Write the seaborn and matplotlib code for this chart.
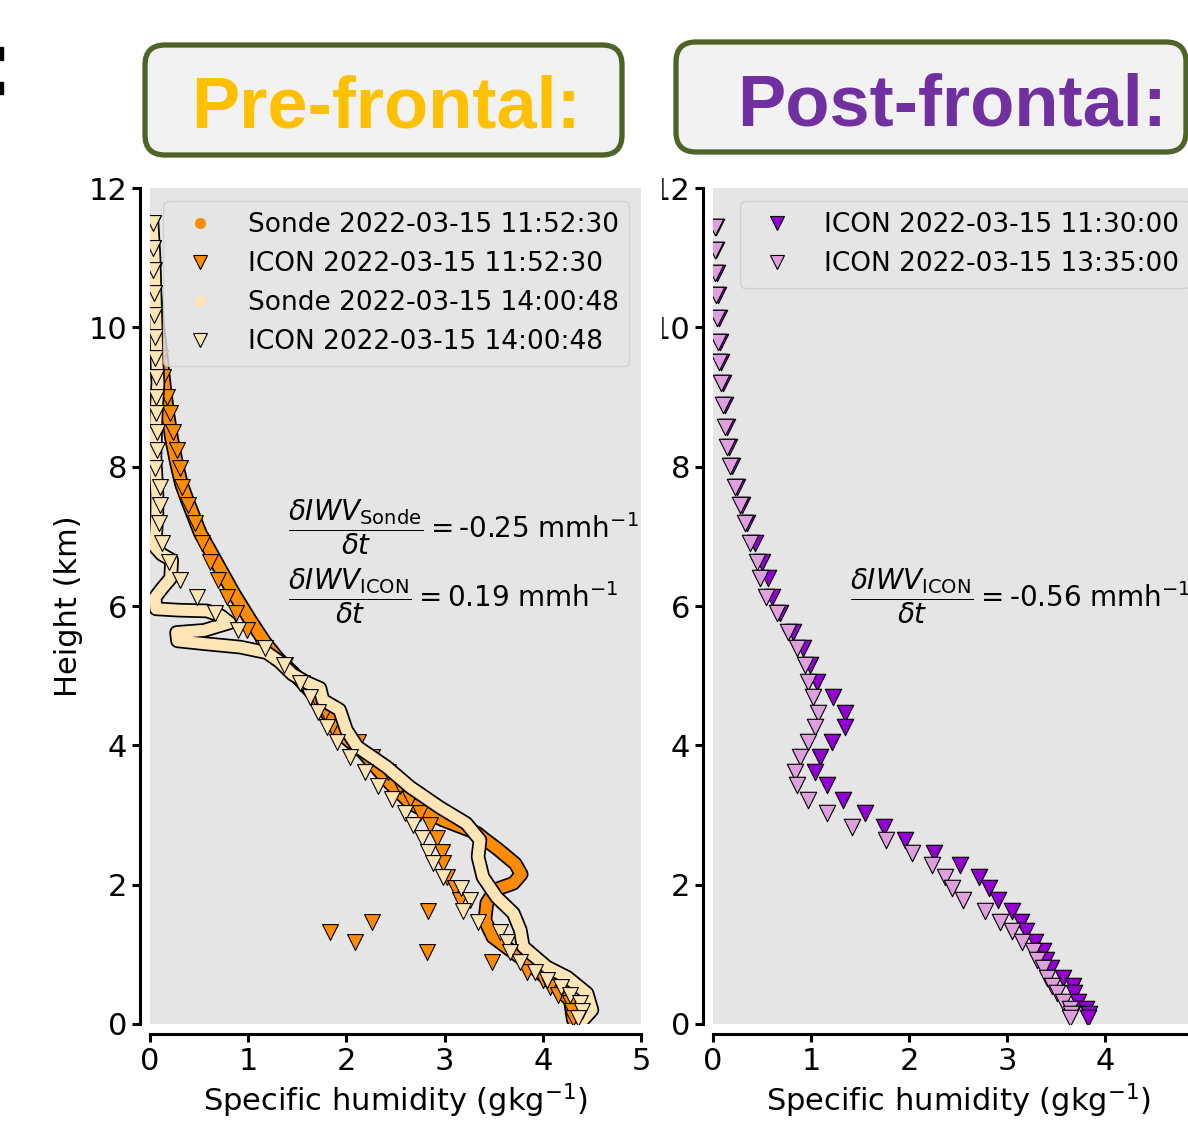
'''
Pre-frontal / post-frontal humidity profiles: radiosonde vs ICON
'''
import pandas as pd
import matplotlib.pyplot as plt
import matplotlib.patheffects as pe
from matplotlib.lines import Line2D
from matplotlib.patches import FancyBboxPatch, Rectangle
import seaborn as sns

# ---- pre-frontal: radiosondes (height km, q g/kg) ----
sonde1_x = [0.04, 0.08, 0.12, 0.15, 0.18, 0.22, 0.27, 0.32, 0.38, 0.51, 0.68,
            0.85, 1.02, 1.17, 1.30, 1.45, 1.65, 1.80, 1.93, 2.17, 2.44, 2.65,
            2.98, 3.33, 3.40, 3.55, 3.72, 3.78, 3.70, 3.52, 3.43, 3.41, 3.49,
            3.67, 3.90, 4.14, 4.28, 4.31]
sonde1_y = [10.6, 10.0, 9.5, 9.1, 8.77, 8.4, 8.05, 7.75, 7.52, 7.05, 6.62,
            6.19, 5.80, 5.48, 5.25, 5.05, 4.75, 4.46, 4.18, 3.90, 3.46, 3.17,
            2.93, 2.74, 2.66, 2.50, 2.30, 2.15, 2.02, 1.93, 1.74, 1.49, 1.25,
            1.06, 0.82, 0.53, 0.34, 0.06]
sonde2_x = [0.02, 0.04, 0.05, 0.06, 0.07, 0.08, 0.06, 0.05, 0.07, 0.07, 0.05,
            0.12, 0.22, 0.21, 0.12, 0.05, 0.06, 0.30, 0.58, 0.72, 0.81, 0.55,
            0.27, 0.28, 0.55, 0.92, 1.19, 1.32, 1.45, 1.60, 1.73, 1.76, 1.93,
            2.00, 2.11, 2.41, 2.65, 2.95, 3.22, 3.36, 3.34, 3.39, 3.53, 3.70,
            3.77, 3.80, 4.04, 4.25, 4.45, 4.50, 4.41]
sonde2_y = [11.5, 11.0, 10.5, 10.0, 9.5, 9.2, 8.7, 8.14, 7.6, 7.33, 6.85,
            6.74, 6.66, 6.40, 6.25, 6.12, 5.96, 5.94, 5.93, 5.86, 5.76, 5.65,
            5.62, 5.50, 5.46, 5.41, 5.33, 5.20, 5.02, 4.90, 4.82, 4.65, 4.51,
            4.22, 3.98, 3.69, 3.40, 3.11, 2.88, 2.64, 2.40, 2.11, 1.82, 1.59,
            1.35, 1.11, 0.82, 0.67, 0.44, 0.20, 0.06]

# ---- pre-frontal: ICON model levels ----
icon_pre_y = [11.50, 11.14, 10.82, 10.49, 10.18, 9.86, 9.56, 9.29, 9.00, 8.77,
              8.50, 8.24, 7.98, 7.71, 7.45, 7.19, 6.90, 6.63, 6.37, 6.13, 5.90,
              5.65, 5.40, 5.15, 4.89, 4.70, 4.48, 4.26, 4.05, 3.83, 3.62, 3.41,
              3.23, 3.03, 2.86, 2.67, 2.47, 2.31, 2.11, 1.95, 1.78, 1.62, 1.46,
              1.32, 1.17, 1.03, 0.89, 0.75, 0.63, 0.53, 0.42, 0.30, 0.18, 0.09]
icon_pre1_x = [0.03, 0.03, 0.04, 0.04, 0.05, 0.07, 0.10, 0.13, 0.17, 0.20,
               0.23, 0.27, 0.30, 0.33, 0.39, 0.46, 0.53, 0.61, 0.69, 0.78, 0.88,
               0.99, 1.15, 1.37, 1.55, 1.68, 1.78, 1.85, 2.12, 2.26, 2.42, 2.55,
               2.65, 2.75, 2.85, 2.92, 2.97, 2.98, 3.02, 3.11, 3.16, 2.83, 2.26,
               1.83, 2.09, 2.82, 3.48, 3.84, 4.00, 4.07, 4.15, 4.28, 4.30, 4.31]
icon_pre2_x = [0.03, 0.03, 0.03, 0.04, 0.04, 0.05, 0.05, 0.06, 0.06, 0.06,
               0.07, 0.07, 0.05, 0.10, 0.10, 0.09, 0.12, 0.19, 0.31, 0.48, 0.66,
               0.90, 1.17, 1.36, 1.53, 1.63, 1.71, 1.80, 1.90, 2.04, 2.19, 2.32,
               2.46, 2.60, 2.68, 2.77, 2.83, 2.88, 2.98, 3.17, 3.26, 3.19, 3.34,
               3.56, 3.63, 3.67, 3.77, 3.92, 4.04, 4.18, 4.28, 4.38, 4.40, 4.36]

# ---- post-frontal: ICON model levels ----
icon_post_y = [11.44, 11.11, 10.78, 10.46, 10.13, 9.79, 9.50, 9.20, 8.88, 8.57,
               8.28, 8.01, 7.71, 7.45, 7.19, 6.90, 6.63, 6.40, 6.13, 5.90, 5.63,
               5.40, 5.15, 4.91, 4.70, 4.47, 4.26, 4.05, 3.83, 3.62, 3.43, 3.22,
               3.03, 2.83, 2.64, 2.46, 2.28, 2.11, 1.95, 1.78, 1.62, 1.47, 1.33,
               1.18, 1.05, 0.92, 0.80, 0.66, 0.55, 0.44, 0.32, 0.22, 0.14, 0.08]
icon_post1_x = [0.03, 0.03, 0.04, 0.05, 0.06, 0.07, 0.08, 0.10, 0.12, 0.14,
                0.16, 0.19, 0.24, 0.30, 0.35, 0.43, 0.50, 0.56, 0.60, 0.68,
                0.82, 0.92, 0.99, 1.06, 1.22, 1.35, 1.35, 1.21, 1.09, 1.04,
                1.16, 1.33, 1.55, 1.74, 1.96, 2.25, 2.52, 2.71, 2.82, 2.91,
                3.05, 3.14, 3.19, 3.28, 3.37, 3.40, 3.45, 3.57, 3.67, 3.68,
                3.72, 3.81, 3.84, 3.83]
icon_post2_x = [0.02, 0.02, 0.02, 0.03, 0.04, 0.05, 0.06, 0.08, 0.10, 0.12,
                0.14, 0.17, 0.22, 0.28, 0.33, 0.38, 0.45, 0.48, 0.54, 0.65,
                0.76, 0.86, 0.94, 0.97, 1.02, 1.07, 1.04, 0.97, 0.89, 0.84,
                0.86, 0.97, 1.16, 1.42, 1.76, 2.03, 2.23, 2.37, 2.44, 2.55,
                2.77, 2.93, 3.05, 3.15, 3.26, 3.31, 3.37, 3.41, 3.46, 3.51,
                3.57, 3.64, 3.65, 3.64]

pre_labels = ['Sonde 2022-03-15 11:52:30', 'ICON 2022-03-15 11:52:30',
              'Sonde 2022-03-15 14:00:48', 'ICON 2022-03-15 14:00:48']
post_labels = ['ICON 2022-03-15 11:30:00', 'ICON 2022-03-15 13:35:00']
pre_colors = ['#ff8c00', '#ffe4b5']
post_colors = ['#9400d3', '#dda0dd']

sns.set_style('ticks', {'axes.facecolor': '#e5e5e5', 'axes.edgecolor': 'black',
                        'text.color': 'black', 'axes.labelcolor': 'black',
                        'xtick.color': 'black', 'ytick.color': 'black'})
plt.rcParams['font.family'] = ['DejaVu Sans']
plt.rcParams['font.size'] = 20


def sonde(ax, xs, ys, color, z):
    df = pd.DataFrame({'q': xs, 'z': ys})
    sns.lineplot(data=df, x='q', y='z', sort=False, estimator=None, ax=ax,
                 color=color, lw=8, solid_capstyle='round',
                 solid_joinstyle='round', zorder=z,
                 path_effects=[pe.Stroke(linewidth=10.5, foreground='black'),
                               pe.Normal()])


def icon(ax, xs, ys, color, s, z):
    df = pd.DataFrame({'q': xs, 'z': ys})
    sns.scatterplot(data=df, x='q', y='z', marker='v', s=s, color=color,
                    edgecolor='black', linewidth=0.8, ax=ax, legend=False,
                    zorder=z)


def style_axes(ax, nx):
    ax.set_xlim(0, 5)
    ax.set_ylim(0, 12)
    ax.set_xticks(range(0, nx))
    ax.set_yticks(range(0, 13, 2))
    sns.despine(ax=ax, offset=7)
    for sp in ['left', 'bottom']:
        ax.spines[sp].set_linewidth(2.2)
    ax.tick_params(labelsize=22, width=2.2, length=6)
    ax.set_xlabel('Specific humidity (gkg$^{-1}$)', fontsize=22)


fig = plt.figure(figsize=(11.88, 11.28), dpi=100)
ax1 = fig.add_axes([0.1263, 0.0922, 0.4133, 0.7411])
ax2 = fig.add_axes([0.6002, 0.0922, 0.4125, 0.7411])

# pre-frontal
sonde(ax1, sonde1_x, sonde1_y, pre_colors[0], 2)
icon(ax1, icon_pre1_x, icon_pre_y, pre_colors[0], 130, 3)
sonde(ax1, sonde2_x, sonde2_y, pre_colors[1], 4)
icon(ax1, icon_pre2_x, icon_pre_y, pre_colors[1], 130, 5)
style_axes(ax1, 6)
ax1.set_ylabel('Height (km)', fontsize=22)
handles = [
    Line2D([], [], ls='', marker='o', ms=8, color=pre_colors[0], mec='none'),
    Line2D([], [], ls='', marker='v', ms=10, color=pre_colors[0], mec='black', mew=0.8),
    Line2D([], [], ls='', marker='o', ms=8, color=pre_colors[1], mec='none'),
    Line2D([], [], ls='', marker='v', ms=10, color=pre_colors[1], mec='black', mew=0.8),
]
leg = ax1.legend(handles, pre_labels, loc='upper left', fontsize=19,
                 framealpha=0.8)
leg.set_zorder(10)
ax1.text(1.4, 7.13, r'$\dfrac{\delta IWV_{\mathrm{Sonde}}}{\delta t} = $-0.25 mmh$^{-1}$',
         fontsize=20, va='center', ha='left', zorder=6)
ax1.text(1.4, 6.14, r'$\dfrac{\delta IWV_{\mathrm{ICON}}}{\delta t} = $0.19 mmh$^{-1}$',
         fontsize=20, va='center', ha='left', zorder=6)

# post-frontal
icon(ax2, icon_post1_x, icon_post_y, post_colors[0], 140, 3)
icon(ax2, icon_post2_x, icon_post_y, post_colors[1], 140, 4)
style_axes(ax2, 5)
ax2.set_ylabel('')
handles = [
    Line2D([], [], ls='', marker='v', ms=10, color=c, mec='black', mew=0.8)
    for c in post_colors
]
leg = ax2.legend(handles, post_labels, loc='upper right', fontsize=19,
                 framealpha=0.8)
leg.set_zorder(10)
ax2.text(1.4, 6.14, r'$\dfrac{\delta IWV_{\mathrm{ICON}}}{\delta t} = $-0.56 mmh$^{-1}$',
         fontsize=20, va='center', ha='left', zorder=6)

# title boxes (inches from bottom-left)
tr = fig.dpi_scale_trans
for (x0, y0, w, h), txt, col, tx, ty in [
        ((1.45, 9.73, 4.77, 1.10), 'Pre-frontal:', '#ffc000', 3.86, 10.00),
        ((6.76, 9.76, 5.10, 1.10), 'Post-frontal:', '#7030a0', 9.52, 10.03)]:
    fig.add_artist(FancyBboxPatch((x0, y0), w, h, transform=tr,
                                  boxstyle='round,pad=0,rounding_size=0.2',
                                  fc='#f2f2f2', ec='#4f6228', lw=3.8))
    fig.text(tx, ty, txt, transform=tr, ha='center', va='baseline',
             fontsize=52, fontweight='bold', color=col,
             family=['Liberation Sans', 'DejaVu Sans'])

# remnants of the cropped panel edges
fig.add_artist(Rectangle((0, 10.68), 0.03, 0.13, transform=tr, color='black'))
fig.add_artist(Rectangle((0, 10.34), 0.03, 0.12, transform=tr, color='black'))
fig.add_artist(Rectangle((6.43, 7.8), 0.18, 3.2, transform=tr, color='white',
                         zorder=5))

fig.savefig('out.png', dpi=100)
